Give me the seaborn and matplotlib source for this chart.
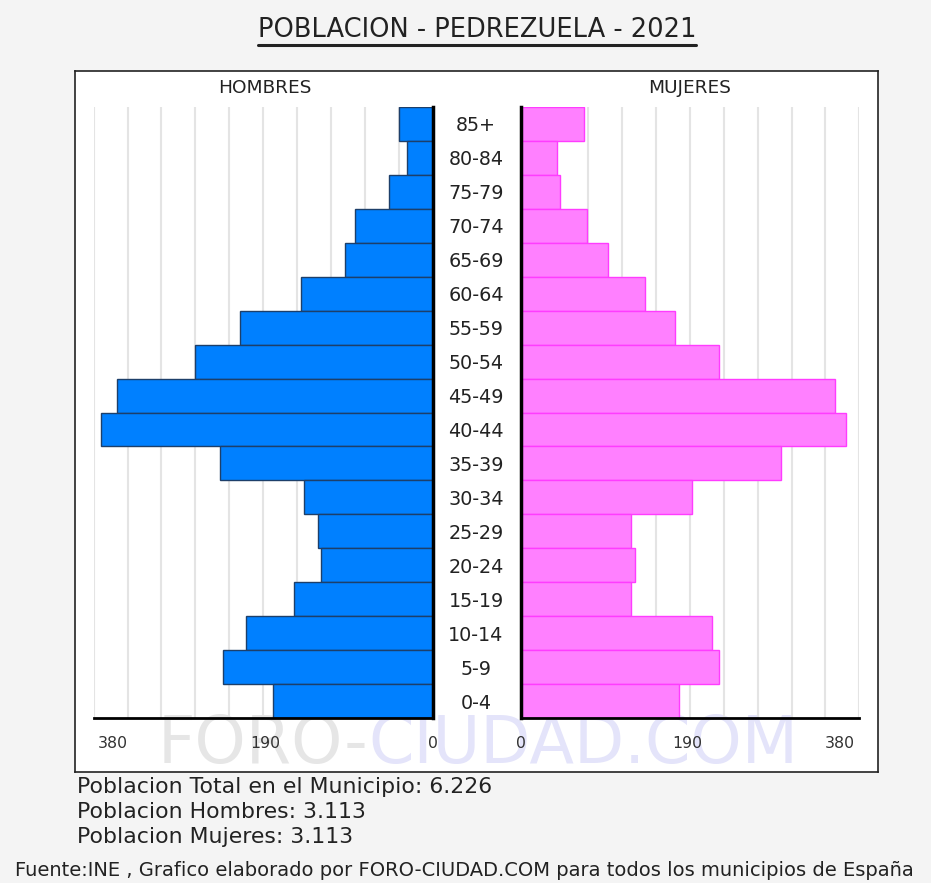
import numpy as np
import matplotlib
matplotlib.use("Agg")
import matplotlib.pyplot as plt
import seaborn as sns
from matplotlib.lines import Line2D

ages = ['85+', '80-84', '75-79', '70-74', '65-69', '60-64', '55-59', '50-54', '45-49',
        '40-44', '35-39', '30-34', '25-29', '20-24', '15-19', '10-14', '5-9', '0-4']
hombres = [38, 29, 49, 88, 99, 150, 219, 270, 358, 377, 242, 146, 130, 127, 157, 212, 238, 181]
mujeres = [72, 41, 45, 76, 99, 141, 176, 226, 357, 370, 296, 195, 126, 130, 126, 218, 226, 180]
tick_vals = [0, 190, 380]
tick_labels = ['0', '190', '380']
x_max = 385

title = 'POBLACION - PEDREZUELA - 2021'
info_lines = ['Poblacion Total en el Municipio: 6.226',
              'Poblacion Hombres: 3.113',
              'Poblacion Mujeres: 3.113']
footer = 'Fuente:INE , Grafico elaborado por FORO-CIUDAD.COM para todos los municipios de España'

sns.set_theme(style="white")
plt.rcParams['font.family'] = ['DejaVu Sans']

W, H = 931, 883
fig = plt.figure(figsize=(W / 100, H / 100), dpi=100, facecolor='#f4f4f4')


def fx(px):
    return px / W


def fy(py):
    return 1 - py / H


# white framed box behind the pyramid
frame = fig.add_axes([fx(75), fy(772), fx(878 - 75), (772 - 71) / H])
frame.set_facecolor('white')
frame.set_xticks([])
frame.set_yticks([])
for s in frame.spines.values():
    s.set_color('#222222')
    s.set_linewidth(1.2)

# watermark (inside the frame axes so it sits under the tick labels)
frame.text(fx(158), fy(745), 'FORO-', transform=fig.transFigure, fontsize=47,
           color='#e6e6e6', va='center', ha='left')
frame.text(fx(368), fy(745), 'CIUDAD.COM', transform=fig.transFigure, fontsize=47,
           color='#e4e4fa', va='center', ha='left')

ax_l = fig.add_axes([fx(432.5 - x_max * 0.88), fy(718), fx(x_max * 0.88), 611 / H])
ax_r = fig.add_axes([fx(520.5), fy(718), fx(x_max * 0.88), 611 / H])
for ax in (ax_l, ax_r):
    ax.patch.set_alpha(0)

sns.barplot(x=hombres, y=ages, orient='h', color='#0080ff', saturation=1,
            edgecolor='#1d3f6a', linewidth=1, width=1.0, ax=ax_l)
sns.barplot(x=mujeres, y=ages, orient='h', color='#ff80ff', saturation=1,
            edgecolor='#ff3cff', linewidth=1, width=1.0, ax=ax_r)

ax_l.set_xlim(x_max, 0)
ax_r.set_xlim(0, x_max)

grid_pos = np.linspace(0, x_max, 11)[1:]
for ax in (ax_l, ax_r):
    ax.set_xticks(tick_vals)
    ax.set_xticklabels(tick_labels)
    ax.set_xticks(grid_pos, minor=True)
    ax.grid(which='minor', axis='x', color='#e4e4e4', linewidth=1.5)
    ax.grid(which='major', axis='x', visible=False)
    ax.set_axisbelow(True)
    ax.tick_params(axis='x', which='both', length=0, pad=13, labelsize=11.3, labelcolor='#333333')
    ax.set_xlabel('')
    ax.set_ylabel('')
    ax.spines['top'].set_visible(False)
    ax.spines['bottom'].set_color('black')
    ax.spines['bottom'].set_linewidth(2)

ax_l.spines['left'].set_visible(False)
ax_l.spines['right'].set_visible(True)
ax_l.spines['right'].set_color('black')
ax_l.spines['right'].set_linewidth(2.5)
ax_l.set_yticks([])

ax_r.spines['right'].set_visible(False)
ax_r.spines['left'].set_color('black')
ax_r.spines['left'].set_linewidth(2.5)
ax_r.tick_params(axis='y', length=0, pad=32, labelsize=13.8, labelcolor='#222222')
for lab in ax_r.get_yticklabels():
    lab.set_horizontalalignment('center')

ax_l.get_xticklabels()[2].set_horizontalalignment('left')
ax_r.get_xticklabels()[2].set_horizontalalignment('right')

# panel headers
fig.text(fx(265), fy(88), 'HOMBRES', fontsize=13.3, color='#222222', ha='center', va='center')
fig.text(fx(690), fy(88), 'MUJERES', fontsize=13.3, color='#222222', ha='center', va='center')

# underlined title
t = fig.text(fx(477), fy(30), title, fontsize=18.5, color='#222222', ha='center', va='center')
fig.canvas.draw()
bb = t.get_window_extent(renderer=fig.canvas.get_renderer())
fig.add_artist(Line2D([bb.x0 / W, bb.x1 / W], [fy(45), fy(45)], color='#222222', linewidth=2.2))

for i, line in enumerate(info_lines):
    fig.text(fx(77), fy(787 + 25 * i), line, fontsize=15.8, color='#222222', ha='left', va='center')

fig.text(fx(464), fy(870), footer, fontsize=14, color='#222222', ha='center', va='center')

fig.savefig('out.png', dpi=100, facecolor=fig.get_facecolor())
